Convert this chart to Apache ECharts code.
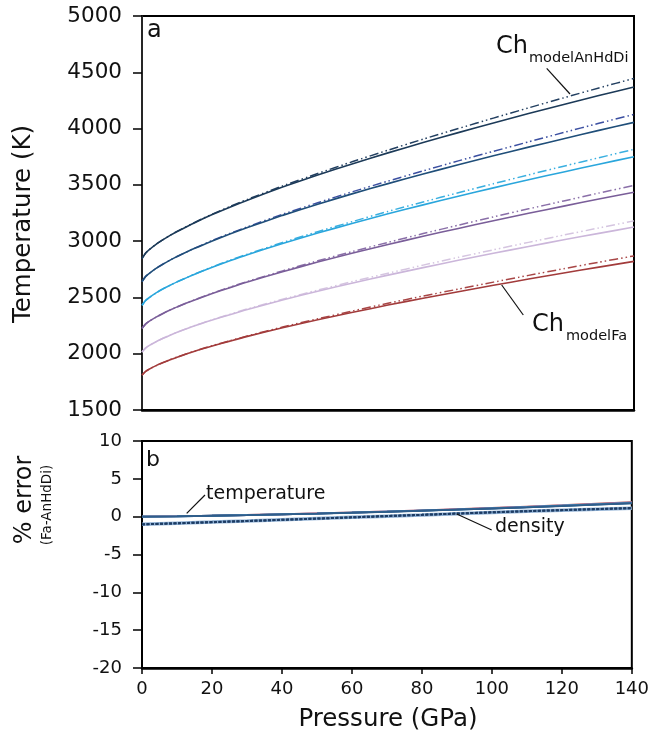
<!DOCTYPE html>
<html><head><meta charset="utf-8">
<script src="https://cdn.jsdelivr.net/npm/echarts@6/dist/echarts.min.js"></script>
<style>html,body{margin:0;padding:0;background:#fff}#c{width:652px;height:738px}</style>
</head><body><div id="c"></div>
<script>
// ---- Panel a: temperature vs pressure ----
const pressure = [0,1,2,4,6,8,10,15,20,25,30,40,50,60,70,80,90,100,110,120,130,140];
// Ch_modelFa (solid)
const fa1 = [2845,2893,2923,2972,3013,3051,3085,3164,3236,3302,3364,3480,3587,3688,3784,3876,3964,4050,4133,4214,4293,4370];
const fa2 = [2640,2685,2712,2758,2796,2831,2863,2936,3002,3064,3121,3229,3328,3422,3511,3596,3679,3758,3835,3910,3984,4055];
const fa3 = [2430,2472,2497,2540,2576,2608,2638,2706,2768,2825,2879,2979,3072,3159,3243,3322,3399,3473,3545,3615,3683,3750];
const fa4 = [2225,2263,2287,2325,2358,2388,2416,2478,2535,2587,2637,2728,2814,2894,2970,3043,3113,3181,3247,3311,3374,3435];
const fa5 = [2015,2050,2072,2107,2137,2165,2190,2248,2299,2347,2393,2477,2555,2628,2698,2765,2830,2892,2953,3012,3069,3125];
const fa6 = [1810,1842,1862,1894,1921,1946,1969,2022,2069,2112,2154,2230,2301,2368,2432,2493,2551,2608,2663,2717,2769,2820];
// Ch_modelAnHdDi (dash-dot-dot)
const an1 = [2845,2893,2923,2972,3014,3052,3087,3167,3240,3307,3371,3490,3601,3707,3808,3906,4000,4093,4184,4273,4361,4446];
const an2 = [2640,2685,2712,2758,2797,2832,2864,2938,3006,3069,3127,3239,3341,3440,3533,3624,3713,3798,3882,3965,4047,4126];
const an3 = [2430,2472,2497,2540,2577,2609,2639,2708,2771,2830,2885,2988,3084,3175,3264,3348,3430,3510,3589,3666,3741,3816];
const an4 = [2225,2263,2287,2325,2358,2389,2417,2480,2538,2591,2642,2736,2825,2909,2989,3067,3142,3215,3287,3357,3427,3495];
const an5 = [2015,2050,2072,2107,2137,2166,2191,2250,2302,2351,2398,2484,2565,2642,2715,2787,2856,2923,2989,3054,3117,3180];
const an6 = [1810,1842,1862,1894,1921,1947,1970,2024,2071,2115,2158,2237,2310,2380,2448,2512,2574,2636,2696,2755,2813,2869];

// ---- Panel b: % error (Fa - AnHdDi) ----
const pressureErr = [0,10,20,30,40,50,60,70,80,90,100,110,120,130,140];
const tErr1 = [0,0.05,0.12,0.20,0.30,0.40,0.52,0.64,0.78,0.92,1.07,1.23,1.40,1.58,1.75];
const tErr2 = [0,0.05,0.12,0.20,0.30,0.41,0.53,0.65,0.79,0.93,1.08,1.24,1.42,1.60,1.78];
const tErr3 = [0,0.05,0.12,0.21,0.31,0.41,0.53,0.66,0.80,0.94,1.10,1.26,1.44,1.62,1.80];
const tErr4 = [0,0.05,0.13,0.21,0.31,0.42,0.54,0.67,0.81,0.96,1.11,1.28,1.46,1.65,1.84];
const tErr5 = [0,0.06,0.13,0.22,0.32,0.43,0.55,0.68,0.82,0.97,1.13,1.30,1.48,1.67,1.87];
const tErr6 = [0,0.06,0.13,0.22,0.32,0.44,0.56,0.69,0.84,0.99,1.15,1.33,1.51,1.71,1.92];
const dErr1 = [-1.00,-0.86,-0.72,-0.57,-0.41,-0.25,-0.09,0.07,0.23,0.40,0.56,0.71,0.85,0.98,1.10];
const dErr2 = [-1.01,-0.87,-0.72,-0.57,-0.41,-0.25,-0.09,0.08,0.24,0.41,0.57,0.72,0.86,0.99,1.12];
const dErr3 = [-1.02,-0.88,-0.73,-0.58,-0.42,-0.26,-0.09,0.08,0.24,0.41,0.58,0.73,0.87,1.01,1.14];

const seriesColors = ['#1c3a58','#1f4e79','#2aa6dc','#7a5e99','#cbb6da','#a23b3b'];
const dashColors   = ['#223f60','#3b4fa1','#39afe0','#8a6fa8','#d5c5e0','#a84646'];
const errColors    = ['#2f5d8a','#3a6a96','#36a0d0','#7a5e99','#b9a2c9','#b04848'];

const FONT = 'DejaVu Sans';
const pts = (xs, ys) => xs.map((x, i) => [x, ys[i]]);

const faSets = [fa1, fa2, fa3, fa4, fa5, fa6];
const anSets = [an1, an2, an3, an4, an5, an6];
const tErrSets = [tErr1, tErr2, tErr3, tErr4, tErr5, tErr6];
const dErrSets = [dErr1, dErr2, dErr3];

const series = [];
faSets.forEach((d, i) => {
  series.push({type:'line', xAxisIndex:0, yAxisIndex:0, data:pts(pressure, anSets[i]), showSymbol:false, smooth:0.2,
    lineStyle:{color:dashColors[i], width:1.5, type:[9,3,1.5,3,1.5,3]}, z:2});
  series.push({type:'line', xAxisIndex:0, yAxisIndex:0, data:pts(pressure, d), showSymbol:false, smooth:0.2,
    lineStyle:{color:seriesColors[i], width:1.6}, z:3});
});
dErrSets.forEach((d, i) => {
  series.push({type:'line', xAxisIndex:1, yAxisIndex:1, data:pts(pressureErr, d), showSymbol:false,
    lineStyle:{color: i===0 ? '#8fb0d4' : '#1d3c64', width: i===0 ? 3.5 : 2, type: i===0 ? 'solid' : [3,1.5]}, z:2});
});
[5,4,3,2,1,0].forEach(i => {
  series.push({type:'line', xAxisIndex:1, yAxisIndex:1, data:pts(pressureErr, tErrSets[i]), showSymbol:false,
    lineStyle:{color:errColors[i], width:1.8}, z:3});
});

const axisText = (size) => ({color:'#111', fontFamily:FONT, fontSize:size});

const option = {
  animation:false,
  backgroundColor:'#fff',
  grid:[
    {left:142, top:16, width:492, height:394, show:true, borderColor:'#000', borderWidth:2, backgroundColor:'transparent'},
    {left:142, top:441, width:492, height:227, show:true, borderColor:'#000', borderWidth:2, backgroundColor:'transparent'}
  ],
  xAxis:[
    {gridIndex:0, type:'value', min:0, max:140, interval:20, axisLabel:{show:false}, axisTick:{show:false},
      splitLine:{show:false}, axisLine:{onZero:false, lineStyle:{color:'#000', width:2.5}}},
    {gridIndex:1, type:'value', min:0, max:140, interval:20, splitLine:{show:false},
      axisLine:{onZero:false, lineStyle:{color:'#000', width:2.5}},
      axisTick:{show:true, inside:false, length:6, lineStyle:{color:'#000', width:1.5}},
      axisLabel:Object.assign({margin:12}, axisText(18))}
  ],
  yAxis:[
    {gridIndex:0, type:'value', min:1500, max:5000, interval:500, splitLine:{show:false},
      axisLine:{onZero:false, lineStyle:{color:'#333', width:1.5}},
      axisTick:{show:true, inside:false, length:9, lineStyle:{color:'#000', width:1.5}},
      axisLabel:Object.assign({margin:20, formatter:(v)=>String(v)}, axisText(21.5))},
    {gridIndex:1, type:'value', min:-20, max:10, interval:5, splitLine:{show:false},
      axisLine:{onZero:false, lineStyle:{color:'#000', width:2}},
      axisTick:{show:true, inside:false, length:9, lineStyle:{color:'#000', width:1.5}},
      axisLabel:Object.assign({margin:20}, axisText(18))}
  ],
  series: series,
  graphic:[
    // panel letters
    {type:'text', x:147, y:31, style:{text:'a', fontFamily:FONT, fontSize:24, fill:'#111', align:'left', verticalAlign:'middle'}, z:10},
    {type:'text', x:146, y:460, style:{text:'b', fontFamily:FONT, fontSize:22, fill:'#111', align:'left', verticalAlign:'middle'}, z:10},
    // Ch_modelAnHdDi
    {type:'text', x:496, y:47, style:{text:'Ch', fontFamily:FONT, fontSize:24, fill:'#111', align:'left', verticalAlign:'middle'}, z:10},
    {type:'text', x:529, y:58, style:{text:'modelAnHdDi', fontFamily:FONT, fontSize:14.5, fill:'#111', align:'left', verticalAlign:'middle'}, z:10},
    {type:'line', shape:{x1:546.7, y1:68.3, x2:570, y2:94}, style:{stroke:'#111', lineWidth:1.2}, z:10},
    // Ch_modelFa
    {type:'text', x:532, y:325, style:{text:'Ch', fontFamily:FONT, fontSize:24, fill:'#111', align:'left', verticalAlign:'middle'}, z:10},
    {type:'text', x:566, y:336, style:{text:'modelFa', fontFamily:FONT, fontSize:14.5, fill:'#111', align:'left', verticalAlign:'middle'}, z:10},
    {type:'line', shape:{x1:501.7, y1:285, x2:523.3, y2:315}, style:{stroke:'#111', lineWidth:1.2}, z:10},
    // panel b labels
    {type:'text', x:206, y:494, style:{text:'temperature', fontFamily:FONT, fontSize:19, fill:'#111', align:'left', verticalAlign:'middle'}, z:10},
    {type:'line', shape:{x1:186.7, y1:513.3, x2:205, y2:495}, style:{stroke:'#111', lineWidth:1.2}, z:10},
    {type:'text', x:495, y:527, style:{text:'density', fontFamily:FONT, fontSize:19, fill:'#111', align:'left', verticalAlign:'middle'}, z:10},
    {type:'line', shape:{x1:456.7, y1:514, x2:491.7, y2:530}, style:{stroke:'#111', lineWidth:1.2}, z:10},
    // axis titles
    {type:'text', x:24, y:224, rotation:Math.PI/2, style:{text:'Temperature (K)', fontFamily:FONT, fontSize:24.5, fill:'#111', align:'center', verticalAlign:'middle'}, z:10},
    {type:'text', x:25, y:500, rotation:Math.PI/2, style:{text:'% error', fontFamily:FONT, fontSize:24, fill:'#111', align:'center', verticalAlign:'middle'}, z:10},
    {type:'text', x:47, y:505, rotation:Math.PI/2, style:{text:'(Fa-AnHdDi)', fontFamily:FONT, fontSize:13.5, fill:'#111', align:'center', verticalAlign:'middle'}, z:10},
    {type:'text', x:388, y:720, style:{text:'Pressure (GPa)', fontFamily:FONT, fontSize:24.5, fill:'#111', align:'center', verticalAlign:'middle'}, z:10}
  ]
};
const chart = echarts.init(document.getElementById('c'), null, {renderer:'canvas'});
chart.setOption(option);
</script>
</body></html>
